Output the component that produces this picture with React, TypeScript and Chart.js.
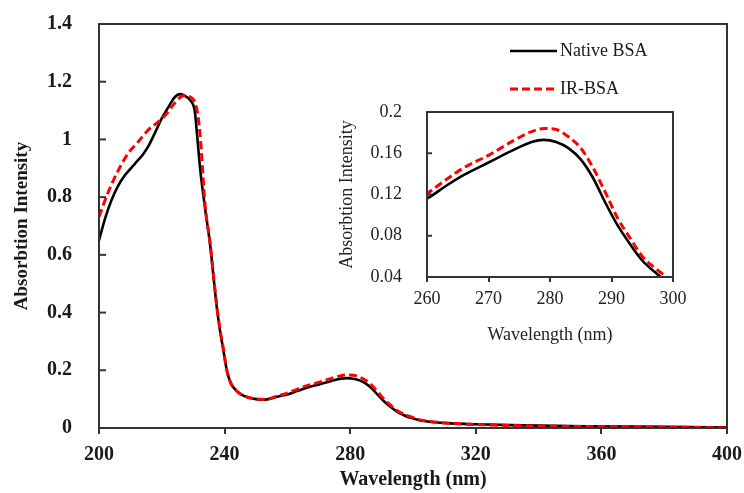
import React, { useEffect, useRef } from "react";
import Chart from "chart.js/auto";

const SERIF = "'Liberation Serif', 'Times New Roman', serif";

// Native BSA
const nativeWl = [200, 202, 204, 206, 208, 210, 212, 214, 216, 218, 220, 222, 224, 225.8, 227.5, 229, 230.5, 231.2, 232.2, 233.8, 235.4, 236.5, 237.5, 238.5, 239.6, 240.7, 242, 244, 246, 248, 250, 252, 254, 256, 258, 260, 263, 266, 270, 274, 277, 279, 281, 283, 285, 287, 289, 291, 293, 295, 297, 298, 299, 302, 306, 312, 320, 335, 355, 380, 400];
const nativeAbs = [0.65, 0.728, 0.79, 0.837, 0.872, 0.898, 0.923, 0.948, 0.982, 1.027, 1.073, 1.11, 1.145, 1.157, 1.15, 1.136, 1.098, 1.02, 0.9, 0.76, 0.634, 0.52, 0.42, 0.34, 0.27, 0.2, 0.155, 0.127, 0.112, 0.104, 0.1, 0.098, 0.1, 0.106, 0.112, 0.116, 0.128, 0.139, 0.151, 0.163, 0.171, 0.173, 0.171, 0.165, 0.154, 0.136, 0.112, 0.09, 0.072, 0.056, 0.045, 0.04, 0.036, 0.027, 0.021, 0.016, 0.013, 0.009, 0.006, 0.004, 0.002];

// IR-BSA
const irWl = [200, 203, 206.2, 209.3, 212.5, 215.7, 218.9, 221.6, 224.2, 226.9, 229.5, 231.1, 232.2, 233.8, 235.4, 236.5, 237.5, 238.5, 239.6, 240.7, 242, 244, 246, 248, 250, 252, 254, 256, 258, 260, 263, 266, 270, 274, 277, 279, 281, 283, 285, 287, 289, 291, 293, 295, 297, 299, 302, 306, 312, 320, 335, 355, 380, 400];
const irAbs = [0.732, 0.819, 0.894, 0.952, 0.992, 1.033, 1.061, 1.09, 1.127, 1.151, 1.144, 1.108, 1.015, 0.77, 0.64, 0.525, 0.425, 0.345, 0.275, 0.2, 0.155, 0.127, 0.112, 0.105, 0.101, 0.099, 0.101, 0.108, 0.115, 0.121, 0.134, 0.146, 0.158, 0.172, 0.181, 0.184, 0.183, 0.176, 0.165, 0.146, 0.122, 0.097, 0.078, 0.06, 0.049, 0.04, 0.029, 0.022, 0.016, 0.012, 0.008, 0.005, 0.003, 0.001];

const mainXTicks = [200, 240, 280, 320, 360, 400];
const mainYTicks = [0, 0.2, 0.4, 0.6, 0.8, 1, 1.2, 1.4];
const insetXTicks = [260, 270, 280, 290, 300];
const insetYTicks = [0.04, 0.08, 0.12, 0.16, 0.2];

const seriesNames = ["Native BSA", "IR-BSA"];
const AXIS = "#333333";

function pts(xs: number[], ys: number[]) {
  return xs.map((x, i) => ({ x, y: ys[i] }));
}

function datasets() {
  return [
    {
      label: seriesNames[0],
      data: pts(nativeWl, nativeAbs),
      borderColor: "#000000",
      borderWidth: 2.6,
      pointRadius: 0,
      cubicInterpolationMode: "monotone" as const,
      order: 2,
    },
    {
      label: seriesNames[1],
      data: pts(irWl, irAbs),
      borderColor: "#ff0000",
      borderWidth: 3,
      borderDash: [8, 4],
      pointRadius: 0,
      cubicInterpolationMode: "monotone" as const,
      order: 1,
    },
  ];
}

function boxPlugin(tickIn: number, drawLegend: boolean) {
  return {
    id: "boxPlugin",
    afterDatasetsDraw(chart: any) {
      const { ctx, chartArea } = chart;
      const { left, right, top, bottom } = chartArea;
      const ys = chart.scales.y;
      ctx.save();
      ctx.strokeStyle = AXIS;
      ctx.lineWidth = 2;
      ctx.strokeRect(left, top, right - left, bottom - top);
      ys.ticks.forEach((t: any) => {
        const py = ys.getPixelForValue(t.value);
        ctx.beginPath();
        ctx.moveTo(left, py);
        ctx.lineTo(left + tickIn, py);
        ctx.stroke();
      });
      if (drawLegend) {
        ctx.font = `18px ${SERIF}`;
        ctx.fillStyle = "#1a1a1a";
        ctx.textBaseline = "middle";
        ctx.textAlign = "left";
        ctx.strokeStyle = "#000";
        ctx.lineWidth = 2.6;
        ctx.setLineDash([]);
        ctx.beginPath();
        ctx.moveTo(510, 51);
        ctx.lineTo(557, 51);
        ctx.stroke();
        ctx.fillText(seriesNames[0], 560, 51);
        ctx.strokeStyle = "#ff0000";
        ctx.lineWidth = 3;
        ctx.setLineDash([8, 4]);
        ctx.beginPath();
        ctx.moveTo(510, 89);
        ctx.lineTo(556, 89);
        ctx.stroke();
        ctx.setLineDash([]);
        ctx.fillText(seriesNames[1], 560, 89);
      }
      ctx.restore();
    },
  };
}

function fmt(v: number) {
  return String(Number(v.toFixed(2)));
}

function xFit(h: number) {
  return (s: any) => {
    s.height = h;
    s.paddingLeft = 0;
    s.paddingRight = 0;
  };
}
function yFit(w: number) {
  return (s: any) => {
    s.width = w;
    s.paddingTop = 0;
    s.paddingBottom = 0;
  };
}

export default function App() {
  const mainRef = useRef<HTMLCanvasElement>(null);
  const insetRef = useRef<HTMLCanvasElement>(null);

  useEffect(() => {
    document.body.style.margin = "0";
    const main = new Chart(mainRef.current!, {
      type: "line",
      data: { datasets: datasets() as any },
      options: {
        responsive: false,
        animation: false,
        layout: { padding: { top: 24, right: 17, left: 0, bottom: 0 } },
        plugins: { legend: { display: false }, tooltip: { enabled: false } },
        scales: {
          x: {
            type: "linear",
            min: 200,
            max: 400,
            afterBuildTicks: (s: any) => {
              s.ticks = mainXTicks.map((v) => ({ value: v }));
            },
            afterFit: xFit(65),
            ticks: {
              padding: 9,
              color: "#1a1a1a",
              font: { family: SERIF, size: 20, weight: "bold" },
              callback: (v: any) => fmt(Number(v)),
            },
            grid: { drawOnChartArea: false, drawTicks: true, tickLength: 6, color: AXIS, lineWidth: 2 },
            border: { display: false },
            title: {
              display: true,
              text: "Wavelength (nm)",
              color: "#1a1a1a",
              font: { family: SERIF, size: 20, weight: "bold" },
              padding: { top: 0, bottom: 1 },
            },
          },
          y: {
            type: "linear",
            min: 0,
            max: 1.4,
            afterBuildTicks: (s: any) => {
              s.ticks = mainYTicks.map((v) => ({ value: v }));
            },
            afterFit: yFit(99),
            ticks: {
              padding: 19,
              color: "#1a1a1a",
              font: { family: SERIF, size: 20, weight: "bold" },
              callback: (v: any) => fmt(Number(v)),
            },
            grid: { display: false },
            border: { display: false },
            title: {
              display: true,
              text: "Absorbtion Intensity",
              color: "#1a1a1a",
              font: { family: SERIF, size: 19, weight: "bold" },
              padding: { top: 11, bottom: 0 },
            },
          },
        },
      },
      plugins: [boxPlugin(7, true)],
    });

    const inset = new Chart(insetRef.current!, {
      type: "line",
      data: { datasets: datasets() as any },
      options: {
        responsive: false,
        animation: false,
        layout: { padding: { top: 12, right: 17, left: 0, bottom: 0 } },
        plugins: { legend: { display: false }, tooltip: { enabled: false } },
        scales: {
          x: {
            type: "linear",
            min: 260,
            max: 300,
            afterBuildTicks: (s: any) => {
              s.ticks = insetXTicks.map((v) => ({ value: v }));
            },
            afterFit: xFit(73),
            ticks: {
              padding: 6,
              color: "#222",
              font: { family: SERIF, size: 18 },
              callback: (v: any) => fmt(Number(v)),
            },
            grid: { drawOnChartArea: false, drawTicks: true, tickLength: 5, color: AXIS, lineWidth: 2 },
            border: { display: false },
            title: {
              display: true,
              text: "Wavelength (nm)",
              color: "#222",
              font: { family: SERIF, size: 18 },
              padding: { top: 0, bottom: 4 },
            },
          },
          y: {
            type: "linear",
            min: 0.04,
            max: 0.2,
            afterBuildTicks: (s: any) => {
              s.ticks = insetYTicks.map((v) => ({ value: v }));
            },
            afterFit: yFit(97),
            ticks: {
              padding: 17,
              color: "#222",
              font: { family: SERIF, size: 18 },
              callback: (v: any) => fmt(Number(v)),
            },
            grid: { display: false },
            border: { display: false },
            title: {
              display: true,
              text: "Absorbtion Intensity",
              color: "#222",
              font: { family: SERIF, size: 18 },
              padding: { top: 6, bottom: 0 },
            },
          },
        },
      },
      plugins: [boxPlugin(5, false)],
    });

    return () => {
      main.destroy();
      inset.destroy();
    };
  }, []);

  return (
    <div style={{ position: "fixed", left: 0, top: 0, width: 744, height: 493, background: "#fff" }}>
      <canvas ref={mainRef} width={744} height={493} style={{ position: "absolute", left: 0, top: 0 }} />
      <canvas ref={insetRef} width={360} height={250} style={{ position: "absolute", left: 330, top: 100 }} />
    </div>
  );
}
